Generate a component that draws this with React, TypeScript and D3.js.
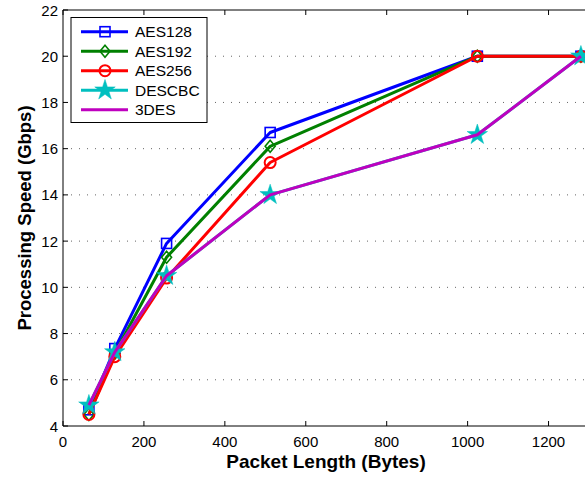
import React from "react";
import * as d3 from "d3";

const packetLengths = [64, 128, 256, 512, 1024, 1280];
const seriesNames = ["AES128", "AES192", "AES256", "DESCBC", "3DES"];
const aes128 = [4.7, 7.35, 11.9, 16.7, 20, 20];
const aes192 = [4.5, 7.15, 11.3, 16.1, 20, 20];
const aes256 = [4.5, 7.0, 10.4, 15.4, 20, 20];
const descbc = [4.9, 7.2, 10.5, 14.0, 16.6, 20];
const tdes = [4.9, 7.2, 10.5, 14.0, 16.6, 20];
const xTicks = [0, 200, 400, 600, 800, 1000, 1200];
const yTicks = [4, 6, 8, 10, 12, 14, 16, 18, 20, 22];

const seriesValues = [aes128, aes192, aes256, descbc, tdes];
const colors = ["#0000ff", "#008000", "#ff0000", "#00bfbf", "#bf00bf"];
const markers = ["square", "diamond", "circle", "star", "none"];

const W = 585, H = 479;
const m = { left: 63, top: 10, right: 589, bottom: 426 };

function Marker({ type, x, y, color }: { type: string; x: number; y: number; color: string }) {
  if (type === "square")
    return <rect x={x - 5} y={y - 5} width={10} height={10} fill="none" stroke={color} strokeWidth={1.6} />;
  if (type === "diamond")
    return <path d={`M${x},${y - 6}L${x + 5},${y}L${x},${y + 6}L${x - 5},${y}Z`} fill="none" stroke={color} strokeWidth={1.6} />;
  if (type === "circle")
    return <circle cx={x} cy={y} r={5.5} fill="none" stroke={color} strokeWidth={2} />;
  if (type === "star") {
    const p = d3.symbol(d3.symbolStar, 130)();
    return <path d={p || ""} transform={`translate(${x},${y})`} fill={color} stroke={color} strokeWidth={0.5} />;
  }
  return null;
}

export default function App() {
  const x = d3.scaleLinear().domain([0, 1300]).range([m.left, m.right]);
  const y = d3.scaleLinear().domain([4, 22]).range([m.bottom, m.top]);
  const line = d3.line<number>().x((_, i) => x(packetLengths[i])).y((d) => y(d));
  const font = "'Liberation Sans', Arial, sans-serif";

  return (
    <svg width={W} height={H} style={{ position: "absolute", left: 0, top: 0, background: "#fff" }} fontFamily={font}>
      <rect x={0} y={0} width={W} height={H} fill="#fff" />
      {yTicks.slice(1, -1).map((t) => (
        <line key={"g" + t} x1={m.left} x2={m.right} y1={y(t)} y2={y(t)} stroke="#666" strokeWidth={1} strokeDasharray="1,7" />
      ))}
      <line x1={m.left} x2={m.right} y1={m.top} y2={m.top} stroke="#000" strokeWidth={1} />
      <line x1={m.left} x2={m.right} y1={m.bottom} y2={m.bottom} stroke="#000" strokeWidth={1} />
      <line x1={m.left} x2={m.left} y1={m.top} y2={m.bottom} stroke="#000" strokeWidth={1} />
      <line x1={m.right} x2={m.right} y1={m.top} y2={m.bottom} stroke="#000" strokeWidth={1} />
      {xTicks.map((t) => (
        <g key={"x" + t}>
          <line x1={x(t)} x2={x(t)} y1={m.bottom} y2={m.bottom - 5} stroke="#000" />
          <line x1={x(t)} x2={x(t)} y1={m.top} y2={m.top + 5} stroke="#000" />
          <text x={x(t)} y={m.bottom + 20.5} textAnchor="middle" fontSize={15} fill="#000">{t}</text>
        </g>
      ))}
      {yTicks.map((t) => (
        <g key={"y" + t}>
          <line x1={m.left} x2={m.left + 5} y1={y(t)} y2={y(t)} stroke="#000" />
          <text x={m.left - 5} y={y(t) + 5.5} textAnchor="end" fontSize={15} fill="#000">{t}</text>
        </g>
      ))}
      <text x={(m.left + m.right) / 2} y={468} textAnchor="middle" fontSize={19} fontWeight="bold" fill="#000">Packet Length (Bytes)</text>
      <text transform={`translate(31,${(m.top + m.bottom) / 2}) rotate(-90)`} textAnchor="middle" fontSize={18.5} fontWeight="bold" fill="#000">Processing Speed (Gbps)</text>
      {seriesValues.map((vals, si) => (
        <g key={"s" + si}>
          <path d={line(vals) || ""} fill="none" stroke={colors[si]} strokeWidth={3} strokeLinejoin="round" />
          {vals.map((v, i) => (
            <Marker key={i} type={markers[si]} x={x(packetLengths[i])} y={y(v)} color={colors[si]} />
          ))}
        </g>
      ))}
      <rect x={71} y={17.5} width={136} height={105} fill="#fff" stroke="#000" strokeWidth={1} />
      {seriesNames.map((n, i) => {
        const ly = 31.7 + i * 19.5;
        return (
          <g key={"l" + n}>
            <line x1={81} x2={128} y1={ly} y2={ly} stroke={colors[i]} strokeWidth={3} />
            <Marker type={markers[i]} x={105} y={ly} color={colors[i]} />
            <text x={135} y={ly + 5.5} fontSize={15.5} fill="#000">{n}</text>
          </g>
        );
      })}
    </svg>
  );
}
